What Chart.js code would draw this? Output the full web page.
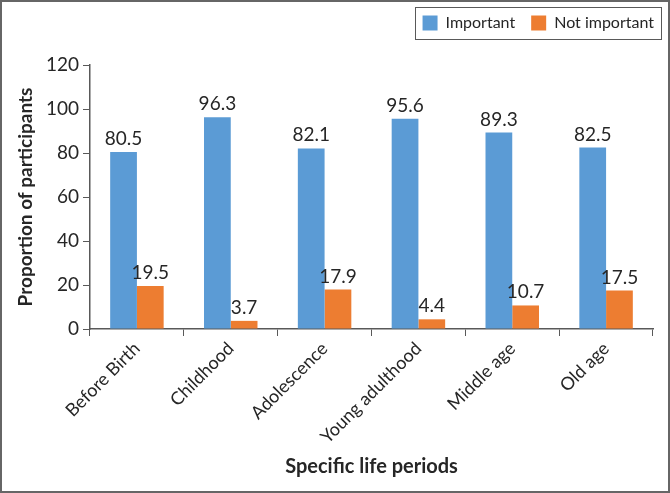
<!DOCTYPE html>
<html>
<head>
<meta charset="utf-8">
<script src="https://cdn.jsdelivr.net/npm/chart.js@4"></script>
<style>
  html, body { margin: 0; padding: 0; background: #fff; }
  #wrap { width: 670px; height: 493px; box-sizing: border-box; border: 2px solid #666; }
  #chart { display: block; }
</style>
</head>
<body>
<div id="wrap"><canvas id="chart" width="666" height="489"></canvas></div>
<script>
// datos del grafico
const periods = ['Before Birth', 'Childhood', 'Adolescence', 'Young adulthood', 'Middle age', 'Old age'];
const important = [80.5, 96.3, 82.1, 95.6, 89.3, 82.5];
const notImportant = [19.5, 3.7, 17.9, 4.4, 10.7, 17.5];
const yTicks = [0, 20, 40, 60, 80, 100, 120];

const fontFam = 'Lato, "Open Sans", sans-serif';
const txt = '#262626';
const axisCol = '#595959';

// etiquetas de valor encima de cada barra
const valueLabels = {
  id: 'valueLabels',
  afterDatasetsDraw(chart) {
    const ctx = chart.ctx;
    ctx.save();
    ctx.font = '19px ' + fontFam;
    ctx.fillStyle = txt;
    ctx.textAlign = 'center';
    ctx.textBaseline = 'alphabetic';
    chart.data.datasets.forEach((ds, i) => {
      chart.getDatasetMeta(i).data.forEach((bar, j) => {
        ctx.fillText(ds.data[j].toFixed(1), bar.x, bar.y - 7);
      });
    });
    ctx.restore();
  }
};

// marco alrededor de la leyenda + altura fija y posicion
const legendBox = {
  id: 'legendBox',
  beforeInit(chart) {
    const fit = chart.legend.fit;
    chart.legend.fit = function () {
      fit.bind(chart.legend)();
      this.height = 63;
    };
  },
  afterLayout(chart) {
    const lg = chart.legend;
    lg.left += 17; lg.right += 17;
    lg.top -= 3; lg.bottom -= 3;
  },
  afterDraw(chart) {
    const boxes = chart.legend.legendHitBoxes;
    if (!boxes || !boxes.length) return;
    const first = boxes[0], last = boxes[boxes.length - 1];
    const ctx = chart.ctx;
    ctx.save();
    ctx.strokeStyle = '#595959';
    ctx.lineWidth = 1;
    const x1 = first.left - 8, x2 = last.left + last.width + 7;
    const y1 = first.top - 8, y2 = first.top + first.height + 8;
    ctx.strokeRect(Math.round(x1) + 0.5, Math.round(y1) + 0.5, Math.round(x2 - x1), Math.round(y2 - y1));
    ctx.restore();
  }
};

new Chart(document.getElementById('chart'), {
  type: 'bar',
  data: {
    labels: periods,
    datasets: [
      { label: 'Important', data: important, backgroundColor: '#5B9BD5', categoryPercentage: 0.57, barPercentage: 1 },
      { label: 'Not important', data: notImportant, backgroundColor: '#ED7D31', categoryPercentage: 0.57, barPercentage: 1 }
    ]
  },
  options: {
    responsive: false,
    animation: false,
    layout: { padding: { left: 12, right: 15, top: 0, bottom: 4 } },
    plugins: {
      tooltip: { enabled: false },
      legend: {
        position: 'top',
        align: 'end',
        labels: {
          boxWidth: 15, boxHeight: 15, padding: 16,
          color: txt,
          font: { family: fontFam, size: 16 }
        }
      }
    },
    scales: {
      x: {
        grid: { display: true, drawOnChartArea: false, offset: true, color: axisCol, tickLength: 7 },
        border: { color: axisCol, width: 1.5 },
        ticks: { color: txt, font: { family: fontFam, size: 18 }, minRotation: 45, maxRotation: 45, padding: 2 },
        title: { display: true, text: 'Specific life periods', color: txt, font: { family: fontFam, size: 20, weight: 'bold' }, padding: { top: 4, bottom: 8 } },
        afterFit(s) { s.height = 158; }
      },
      y: {
        min: 0, max: 120,
        afterBuildTicks(s) { s.ticks = yTicks.map(v => ({ value: v })); },
        grid: { display: true, drawOnChartArea: false, color: axisCol, tickLength: 7 },
        border: { color: axisCol, width: 1.5 },
        ticks: { color: txt, font: { family: fontFam, size: 19 }, padding: 4 },
        title: { display: true, text: 'Proportion of participants', color: txt, font: { family: fontFam, size: 19, weight: 'bold' }, padding: { top: 0, bottom: 4 } },
        afterFit(s) { s.width = 76; }
      }
    }
  },
  plugins: [valueLabels, legendBox]
});
</script>
</body>
</html>
